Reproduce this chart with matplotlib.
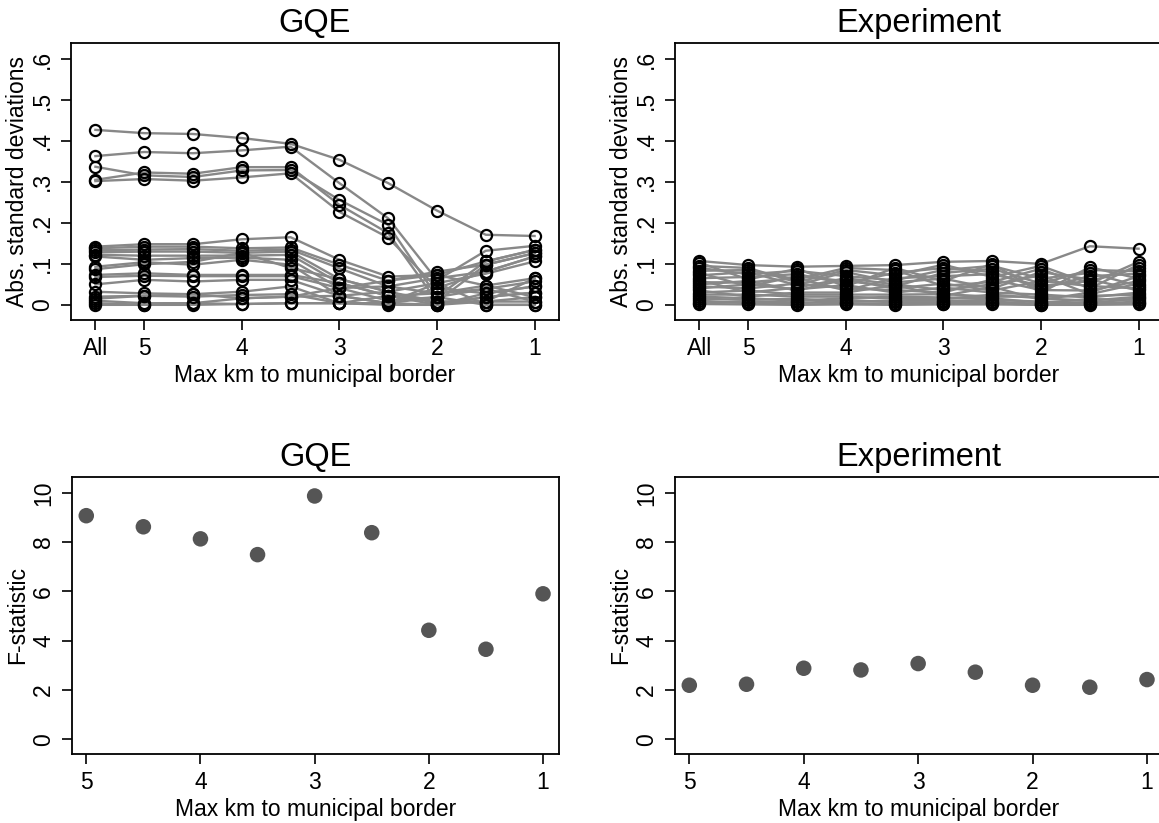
import numpy as np
import matplotlib
matplotlib.use('Agg')
from matplotlib import pyplot as plt

plt.rcParams['font.family'] = ['Liberation Sans', 'DejaVu Sans']

# x categories for the balance plots (All, then 5 km down to 1 km)
bal_labels = ['All', '5', '', '4', '', '3', '', '2', '', '1']
bal_ticks = [0, 1, 3, 5, 7, 9]
bal_ticklabels = ['All', '5', '4', '3', '2', '1']

# GQE: abs. standard deviations, one row per covariate
gqe_bal = [
    [0.427, 0.419, 0.417, 0.407, 0.393, 0.354, 0.297, 0.230, 0.171, 0.168],
    [0.363, 0.373, 0.370, 0.377, 0.386, 0.297, 0.211, 0.060, 0.132, 0.144],
    [0.337, 0.316, 0.312, 0.328, 0.329, 0.256, 0.195, 0.020, 0.106, 0.134],
    [0.305, 0.323, 0.320, 0.336, 0.336, 0.244, 0.175, 0.008, 0.098, 0.126],
    [0.302, 0.307, 0.303, 0.311, 0.321, 0.227, 0.164, 0.041, 0.081, 0.118],
    [0.142, 0.148, 0.148, 0.160, 0.165, 0.110, 0.069, 0.073, 0.106, 0.134],
    [0.138, 0.142, 0.142, 0.138, 0.140, 0.098, 0.059, 0.081, 0.098, 0.126],
    [0.133, 0.135, 0.136, 0.132, 0.135, 0.089, 0.045, 0.065, 0.081, 0.118],
    [0.128, 0.130, 0.130, 0.127, 0.130, 0.063, 0.032, 0.053, 0.076, 0.106],
    [0.122, 0.120, 0.120, 0.120, 0.122, 0.053, 0.022, 0.028, 0.047, 0.065],
    [0.118, 0.110, 0.114, 0.115, 0.110, 0.041, 0.010, 0.019, 0.039, 0.057],
    [0.093, 0.104, 0.098, 0.110, 0.098, 0.022, 0.004, 0.041, 0.028, 0.045],
    [0.087, 0.099, 0.105, 0.127, 0.090, 0.063, 0.032, 0.003, 0.019, 0.030],
    [0.073, 0.077, 0.073, 0.073, 0.073, 0.053, 0.022, 0.008, 0.008, 0.019],
    [0.068, 0.071, 0.070, 0.070, 0.070, 0.041, 0.045, 0.028, 0.039, 0.008],
    [0.050, 0.061, 0.057, 0.061, 0.061, 0.022, 0.004, 0.019, 0.000, 0.000],
    [0.032, 0.028, 0.026, 0.032, 0.045, 0.004, 0.000, 0.000, 0.019, 0.030],
    [0.020, 0.022, 0.020, 0.024, 0.026, 0.004, 0.022, 0.000, 0.028, 0.045],
    [0.015, 0.022, 0.026, 0.016, 0.020, 0.041, 0.059, 0.073, 0.047, 0.019],
    [0.010, 0.004, 0.004, 0.016, 0.020, 0.022, 0.032, 0.008, 0.008, 0.008],
    [0.004, 0.000, 0.004, 0.002, 0.004, 0.004, 0.004, 0.053, 0.000, 0.000],
    [0.000, 0.000, 0.000, 0.002, 0.004, 0.004, 0.004, 0.000, 0.008, 0.065],
]

# Experiment: abs. standard deviations
exp_bal = [
    [0.107, 0.097, 0.093, 0.095, 0.097, 0.105, 0.107, 0.100, 0.143, 0.137],
    [0.103, 0.062, 0.088, 0.045, 0.090, 0.058, 0.100, 0.030, 0.092, 0.064],
    [0.095, 0.090, 0.055, 0.085, 0.072, 0.098, 0.068, 0.095, 0.052, 0.105],
    [0.090, 0.075, 0.083, 0.070, 0.060, 0.085, 0.095, 0.064, 0.078, 0.046],
    [0.083, 0.085, 0.062, 0.090, 0.085, 0.046, 0.056, 0.088, 0.040, 0.098],
    [0.078, 0.045, 0.070, 0.058, 0.045, 0.078, 0.088, 0.052, 0.085, 0.082],
    [0.072, 0.080, 0.048, 0.080, 0.055, 0.064, 0.040, 0.080, 0.062, 0.035],
    [0.065, 0.068, 0.075, 0.052, 0.078, 0.090, 0.080, 0.040, 0.070, 0.076],
    [0.060, 0.030, 0.042, 0.065, 0.050, 0.036, 0.050, 0.072, 0.026, 0.052],
    [0.055, 0.055, 0.065, 0.035, 0.065, 0.070, 0.075, 0.046, 0.058, 0.090],
    [0.050, 0.058, 0.035, 0.062, 0.040, 0.052, 0.035, 0.058, 0.046, 0.040],
    [0.045, 0.040, 0.052, 0.040, 0.036, 0.030, 0.062, 0.036, 0.035, 0.058],
    [0.040, 0.050, 0.038, 0.048, 0.030, 0.042, 0.030, 0.025, 0.018, 0.030],
    [0.035, 0.020, 0.030, 0.030, 0.048, 0.022, 0.044, 0.012, 0.030, 0.070],
    [0.030, 0.035, 0.025, 0.025, 0.025, 0.026, 0.020, 0.020, 0.022, 0.025],
    [0.025, 0.025, 0.020, 0.020, 0.015, 0.014, 0.025, 0.016, 0.010, 0.020],
    [0.020, 0.016, 0.010, 0.016, 0.020, 0.018, 0.016, 0.005, 0.014, 0.012],
    [0.015, 0.012, 0.015, 0.008, 0.010, 0.010, 0.012, 0.008, 0.004, 0.016],
    [0.010, 0.004, 0.003, 0.012, 0.006, 0.006, 0.008, 0.002, 0.007, 0.004],
    [0.005, 0.008, 0.006, 0.004, 0.003, 0.003, 0.004, 0.000, 0.002, 0.008],
    [0.002, 0.001, 0.000, 0.001, 0.000, 0.001, 0.001, 0.000, 0.000, 0.001],
]

# F-statistics by max km to border
km = [5, 4.5, 4, 3.5, 3, 2.5, 2, 1.5, 1]
gqe_F = [9.07, 8.62, 8.13, 7.49, 9.87, 8.38, 4.42, 3.65, 5.90]
exp_F = [2.19, 2.23, 2.88, 2.81, 3.07, 2.72, 2.19, 2.11, 2.42]

W, H = 1159, 823
fig = plt.figure(figsize=(W/100., H/100.), dpi=100)

def box(l, r, t, b):
    return [l/W, 1 - b/H, (r - l)/W, (b - t)/H]

def style(ax):
    for s in ax.spines.values():
        s.set_linewidth(1.3)
    ax.tick_params(direction='out', length=7, width=1.2, labelsize=16.5, pad=5)
    ax.tick_params(axis='y', labelrotation=90)
    for lab in ax.get_yticklabels():
        lab.set_va('center')

xlab = 'Max km to municipal border'
ytit = 'Abs. standard deviations'
xs = np.arange(10)

for pos, data, title in [(box(71, 559, 43, 320), gqe_bal, 'GQE'),
                         (box(675, 1163, 43, 320), exp_bal, 'Experiment')]:
    ax = fig.add_axes(pos)
    for row in data:
        ax.plot(xs, row, color='#888888', linewidth=1.7, zorder=2)
    for row in data:
        ax.plot(xs, row, linestyle='none', marker='o', markersize=8,
                markerfacecolor='none', markeredgecolor='black',
                markeredgewidth=1.6, zorder=3)
    ax.set_xlim(-0.5, 9.5)
    ax.set_ylim(-0.037, 0.639)
    ax.set_xticks(bal_ticks)
    ax.set_xticklabels(bal_ticklabels)
    ax.set_yticks([0, 0.1, 0.2, 0.3, 0.4, 0.5, 0.6])
    ax.set_yticklabels(['0', '.1', '.2', '.3', '.4', '.5', '.6'])
    ax.set_title(title, fontsize=23.5, pad=8)
    ax.set_xlabel(xlab, fontsize=16.5, labelpad=3)
    ax.set_ylabel(ytit, fontsize=16.5, labelpad=2)
    style(ax)

for pos, fvals, title in [(box(72, 559, 477, 754), gqe_F, 'GQE'),
                          (box(675, 1163, 477, 754), exp_F, 'Experiment')]:
    ax = fig.add_axes(pos)
    ax.scatter(km, fvals, s=125, color='#555555', edgecolors='none', zorder=3)
    ax.set_xlim(5.125, 0.86)
    ax.set_ylim(-0.6, 10.64)
    ax.set_xticks([5, 4, 3, 2, 1])
    ax.set_xticklabels(['5', '4', '3', '2', '1'])
    ax.set_yticks([0, 2, 4, 6, 8, 10])
    ax.set_title(title, fontsize=23.5, pad=8)
    ax.set_xlabel(xlab, fontsize=16.5, labelpad=3)
    ax.set_ylabel('F-statistic', fontsize=16.5, labelpad=2)
    style(ax)

fig.savefig('out.png', dpi=100)
